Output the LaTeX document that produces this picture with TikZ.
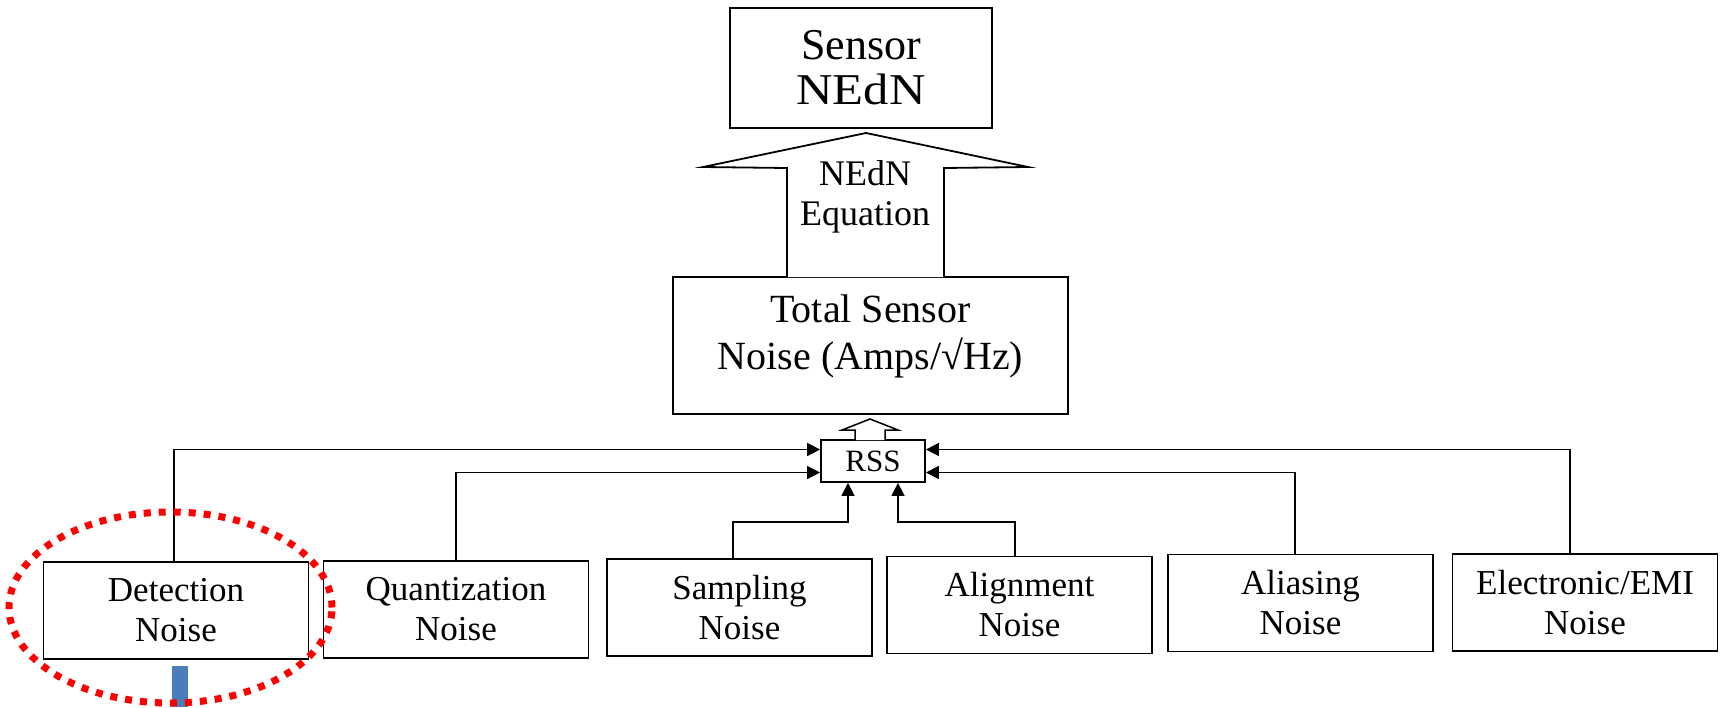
\documentclass[tikz,border=0pt]{standalone}
\usepackage{fontspec}
\setmainfont{Liberation Serif}
\usetikzlibrary{arrows.meta}
\definecolor{barblue}{HTML}{4A7EBB}
\definecolor{dotred}{HTML}{FF0000}
\begin{document}
\begin{tikzpicture}[x=1pt,y=-1pt,
  box/.style={draw=black, line width=1.8pt, rectangle, inner sep=0pt, align=center},
  noisebox/.style={box, minimum width=265pt, minimum height=97pt, font=\fontsize{35}{40}\selectfont},
  conn/.style={draw=black, line width=1.6pt},
  arr/.style={conn, -{Triangle[length=13pt,width=13pt]}},
  bigarrow/.style={draw=black, line width=1.8pt, fill=white, line join=miter}
]
\useasboundingbox (0,0) rectangle (1721,707);

% top
\node[box, minimum width=262pt, minimum height=120pt, font=\fontsize{44}{45}\selectfont] (sensor) at (861,68) {Sensor\\\scalebox{1.15}[1]{NEdN}};
\node[box, minimum width=395pt, minimum height=137pt] (total) at (870.5,345.5) {};
\node[font=\fontsize{40}{47}\selectfont, align=center] (totaltxt) at (870.5,336) {Total Sensor\\Noise (Amps/√Hz)};

% big arrow (NEdN equation)
\draw[bigarrow] (787,277) -- (787,168) -- (703,167) -- (866,133) -- (1028,167) -- (944,168) -- (944,277);
\node[font=\fontsize{36}{40}\selectfont, align=center] (eqtxt) at (865,197) {NEdN\\Equation};

% RSS
\node[box, minimum width=104pt, minimum height=42pt, font=\fontsize{31}{34}\selectfont] (rss) at (873,461) {RSS};
\draw[bigarrow, line width=1.5pt] (855,440) -- (855,430) -- (842,430) -- (870,419) -- (898,430) -- (885,430) -- (885,440);

% noise sources
\node[noisebox] (det) at (176,610.5) {Detection\\Noise};
\node[noisebox] (quant) at (456,609.5) {Quantization\\Noise};
\node[noisebox] (samp) at (739.5,607.5) {Sampling\\Noise};
\node[noisebox] (alig) at (1019.5,605) {Alignment\\Noise};
\node[noisebox] (alias) at (1300.5,603) {Aliasing\\Noise};
\node[noisebox] (elec) at (1585,602.5) {Electronic/EMI\\Noise};

% connectors
\coordinate (detup) at (174,0);
\draw[arr] (detup |- det.north) |- ([yshift=11.5pt]rss.west);
\draw[arr] (quant.north) |- ([yshift=-11.5pt]rss.west);
\coordinate (sampbend) at (733,522);
\draw[arr] (sampbend |- samp.north) -- (sampbend) -| ([xshift=-25pt]rss.south);
\coordinate (aligbend) at (1015,522);
\draw[arr] (aligbend |- alig.north) -- (aligbend) -| ([xshift=25pt]rss.south);
\coordinate (aliasup) at (1295,0);
\draw[arr] (aliasup |- alias.north) |- ([yshift=-11.5pt]rss.east);
\coordinate (elecup) at (1570,0);
\draw[arr] (elecup |- elec.north) |- ([yshift=11.5pt]rss.east);

% highlight
\fill[barblue] (172,666) rectangle (188,707);
\draw[dotred, line width=7pt, dash pattern=on 7pt off 8pt] (170.5,607.5) ellipse [x radius=161.5pt, y radius=95.5pt];
\end{tikzpicture}
\end{document}
